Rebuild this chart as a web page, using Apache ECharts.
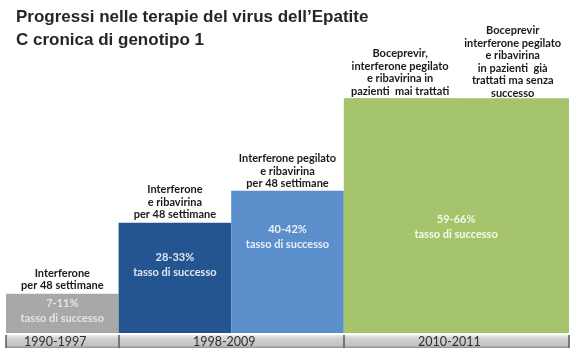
<!DOCTYPE html>
<html><head><meta charset="utf-8">
<script src="https://cdn.jsdelivr.net/npm/echarts@6/dist/echarts.min.js"></script>
<style>html,body{margin:0;padding:0;background:#fff}#c{width:586px;height:360px}</style>
</head><body><div id="c"></div>
<script>
const titleLines = ["Progressi nelle terapie del virus dell’Epatite", "C cronica di genotipo 1"];
const categories = ["Interferone", "Interferone e ribavirina", "Interferone pegilato e ribavirina", "Boceprevir (mai trattati)", "Boceprevir (già trattati)"];
const barHeights = [11, 31, 40, 66, 66];
const successRanges = ["7-11%", "28-33%", "40-42%", "59-66%", ""];
const successCaption = "tasso di successo";
const treatmentLabels = [
  "Interferone\nper 48 settimane",
  "Interferone\ne ribavirina\nper 48 settimane",
  "Interferone pegilato\ne ribavirina\nper 48 settimane",
  "Boceprevir,\ninterferone pegilato\ne ribavirina in\npazienti  mai trattati",
  "Boceprevir\ninterferone pegilato\ne ribavirina\nin pazienti  già\ntrattati ma senza\nsuccesso"
];
const periodLabels = ["1990-1997", "1998-2009", "2010-2011"];
const periodSpans = [1, 2, 2];

// styles (not data)
const barColors = ["#a8a8a8", "#245591", "#5b8fcc", "#a6c46b", "#a6c46b"];
const innerTextColors = ["#e4e4e4", "#dfe6f1", "#e9eff8", "#f6f9ef", "#fff"];
const innerDistance = [2, 27, 31, 114, 0];
const innerOffsetX = [0, 0, 0, 56, 0];
const topDistance = [2, 2, 1, 1, -1];

const bounds = [0];
periodSpans.forEach(s => bounds.push(bounds[bounds.length - 1] + s));
const centers = periodSpans.map((s, i) => bounds[i] + s / 2);

const chart = echarts.init(document.getElementById('c'), null, {renderer: 'canvas'});
const FONT = 'Lato';

chart.setOption({
  animation: false,
  title: {
    text: titleLines.join('\n'),
    left: 11, top: 1,
    textStyle: {fontFamily: 'Liberation Sans', fontWeight: 'bold', fontSize: 17, lineHeight: 23, color: '#262626'}
  },
  grid: [
    {left: 6, right: 17, top: 84, bottom: 27},
    {left: 6, right: 17, top: 335, height: 13, show: true, borderWidth: 0,
     backgroundColor: {type: 'linear', x: 0, y: 0, x2: 0, y2: 1,
       colorStops: [{offset: 0, color: '#ececec'}, {offset: 0.25, color: '#d2d2d2'}, {offset: 0.8, color: '#c2c2c2'}, {offset: 1, color: '#8e8e8e'}]}}
  ],
  xAxis: [
    {type: 'category', gridIndex: 0, data: categories, show: false},
    {type: 'value', gridIndex: 1, min: 0, max: bounds[bounds.length - 1],
     splitLine: {show: false},
     axisLine: {show: false},
     axisTick: {show: true, inside: true, length: 13, customValues: bounds, lineStyle: {color: '#5a5a5a', width: 1.5}},
     axisLabel: {show: true, inside: true, margin: 0, customValues: centers, padding: [0, 14, 0, 0],
       formatter: (v) => { const i = centers.indexOf(v); return i >= 0 ? periodLabels[i] : ''; },
       fontFamily: FONT, fontSize: 12.5, color: '#2e2e2e'}}
  ],
  yAxis: [
    {type: 'value', gridIndex: 0, min: 0, max: 70, show: false},
    {type: 'value', gridIndex: 1, show: false}
  ],
  series: [
    {
      type: 'bar', xAxisIndex: 0, yAxisIndex: 0, barCategoryGap: '0%', barGap: '-100%',
      data: barHeights.map((v, i) => {
        const joinNext = i < barColors.length - 1 && barColors[i + 1] === barColors[i];
        return {
          value: v,
          itemStyle: joinNext
            ? {color: barColors[i], shadowColor: barColors[i], shadowBlur: 0, shadowOffsetX: 2}
            : {color: barColors[i]},
          label: {
            show: successRanges[i] !== '',
            position: 'insideTop', distance: innerDistance[i], offset: [innerOffsetX[i], 0],
            formatter: successRanges[i] + '\n' + successCaption,
            color: innerTextColors[i], fontFamily: FONT, fontWeight: 'bold', fontSize: 11, lineHeight: 15, align: 'center'
          }
        };
      })
    },
    {
      type: 'bar', xAxisIndex: 0, yAxisIndex: 0, barCategoryGap: '0%', barGap: '-100%',
      itemStyle: {color: 'rgba(0,0,0,0)'}, silent: true,
      data: barHeights.map((v, i) => ({
        value: v,
        label: {
          show: true, position: 'top', distance: topDistance[i],
          formatter: treatmentLabels[i],
          color: '#1a1a1a', fontFamily: FONT, fontWeight: 'bold', fontSize: 11, lineHeight: 12.5, align: 'center'
        }
      }))
    }
  ]
});
</script></body></html>
